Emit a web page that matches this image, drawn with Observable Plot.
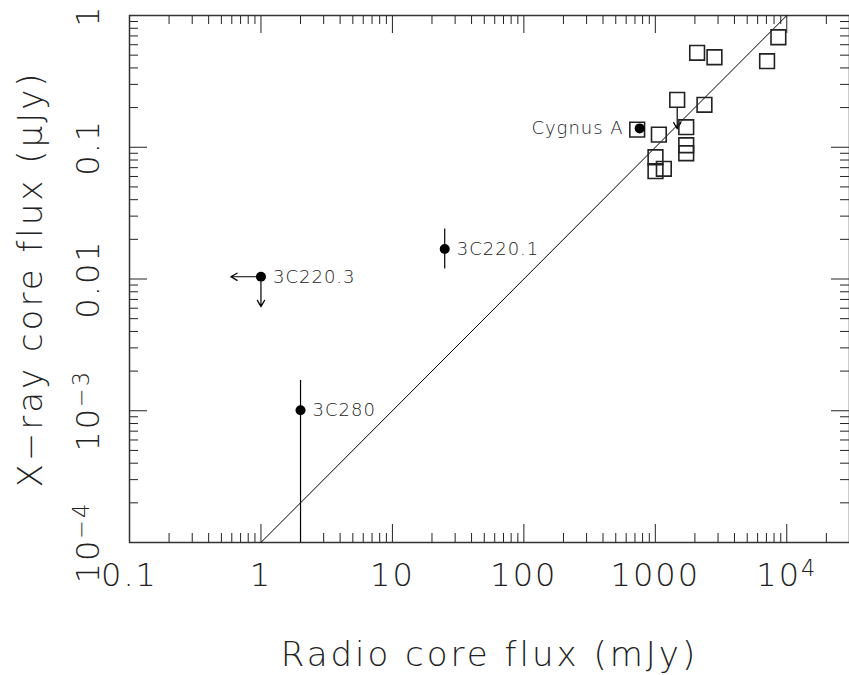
<!DOCTYPE html>
<html><head><meta charset="utf-8">
<script src="https://cdn.jsdelivr.net/npm/d3@7"></script>
<script src="https://cdn.jsdelivr.net/npm/@observablehq/plot@0.6"></script>
<style>body{margin:0;background:#fff}</style>
</head><body><div id="chart"></div>
<script>
// Axis ticks
const xTicks = [0.1, 1, 10, 100, 1000, 1e4];
const xTickLabels = ["0.1", "1", "10", "100", "1000", "10^4"];
const yTicks = [1e-4, 1e-3, 0.01, 0.1, 1];
const yTickLabels = ["10^\u22124", "10^\u22123", "0.01", "0.1", "1"];

// Open squares (radio core flux mJy, X-ray core flux μJy)
const sqRadio = [8630, 7080, 2080, 2818, 1467, 2365, 1718, 1064, 1718, 1718, 1003, 1003, 1161, 728];
const sqXray  = [0.684, 0.450, 0.521, 0.482, 0.229, 0.210, 0.142, 0.1248, 0.1036, 0.090, 0.084, 0.0658, 0.0686, 0.136];

// Labelled sources (filled circles)
const srcNames = ["3C220.3", "3C220.1", "3C280", "Cygnus A"];
const srcRadio = [1, 25, 2, 760];
const srcXray  = [0.0104, 0.0169, 0.00101, 0.139];
const srcLabelSide = ["right", "right", "right", "left"];

// Error bars
const errRadio = [25, 2];
const errLow   = [0.0119, 1e-4];
const errHigh  = [0.024, 0.0017];

// Upper limits of 3C220.3 (arrows)
const limX1 = [1, 1];
const limY1 = [0.0104, 0.0104];
const limX2 = [0.59, 1];
const limY2 = [0.0104, 0.00617];
// Upper limit on one square
const sqLimX1 = [1467], sqLimY1 = [0.229], sqLimY2 = [0.138];

// Relation line Sx = 1e-4 * Sr
const relX = [1, 1e4];
const relY = [1e-4, 1];

const xDomain = [0.1, 3e4];
const yDomain = [1e-4, 1];

const W = 849, H = 675, mL = 129, mR = 0, mT = 15, mB = 133;
const plotW = W - mL - mR, plotH = H - mT - mB;

function minors(lo, hi, maxV) {
  const out = [];
  for (let d = lo; d < hi * 1.0001; d *= 10)
    for (let k = 2; k <= 9; k++) if (d * k <= maxV * 1.0001) out.push(d * k);
  return out;
}
const xMinor = minors(0.1, 1e4, xDomain[1]);
const yMinor = minors(1e-4, 0.1, yDomain[1]);

const font = "DejaVu Sans";
const txt = "#222";

const squares = sqRadio.map((x, i) => ({x, y: sqXray[i]}));
const sources = srcNames.map((n, i) => ({n, x: srcRadio[i], y: srcXray[i], side: srcLabelSide[i]}));
const errs = errRadio.map((x, i) => ({x, lo: errLow[i], hi: errHigh[i]}));
const lims = limX1.map((x, i) => ({x1: x, y1: limY1[i], x2: limX2[i], y2: limY2[i]}));
const sqLims = sqLimX1.map((x, i) => ({x, y1: sqLimY1[i], y2: sqLimY2[i]}));
const rel = relX.map((x, i) => ({x, y: relY[i]}));

const tickStroke = "#222";
const chart = Plot.plot({
  width: W, height: H,
  marginLeft: mL, marginRight: mR, marginTop: mT, marginBottom: mB,
  x: {type: "log", domain: xDomain, axis: null},
  y: {type: "log", domain: yDomain, axis: null},
  style: {fontFamily: font, background: "#fff"},
  marks: [
    // ticks, all four sides, inward
    Plot.ruleX(xTicks, {x: d => d, insetTop: plotH - 18, stroke: tickStroke}),
    Plot.ruleX(xTicks, {x: d => d, insetBottom: plotH - 18, stroke: tickStroke}),
    Plot.ruleX(xMinor, {x: d => d, insetTop: plotH - 9, stroke: tickStroke}),
    Plot.ruleX(xMinor, {x: d => d, insetBottom: plotH - 9, stroke: tickStroke}),
    Plot.ruleY(yTicks, {y: d => d, insetRight: plotW - 18, stroke: tickStroke}),
    Plot.ruleY(yTicks, {y: d => d, insetLeft: plotW - 18, stroke: tickStroke}),
    Plot.ruleY(yMinor, {y: d => d, insetRight: plotW - 9, stroke: tickStroke}),
    Plot.ruleY(yMinor, {y: d => d, insetLeft: plotW - 9, stroke: tickStroke}),
    Plot.frame({stroke: "#333", strokeWidth: 1.5}),
    // tick labels
    Plot.text(xTicks, {x: d => d, text: (d, i) => xTickLabels[i], frameAnchor: "bottom", dy: 33,
      fontSize: 32, fontWeight: 200, fill: txt, lineAnchor: "middle", textAnchor: "middle"}),
    Plot.text(yTicks, {y: d => d, text: (d, i) => yTickLabels[i], frameAnchor: "left", dx: -41, rotate: -90,
      fontSize: 32, fontWeight: 200, fill: txt, lineAnchor: "middle", textAnchor: "middle"}),
    // axis titles
    Plot.text(["Radio core flux (mJy)"], {frameAnchor: "bottom", dy: 113, fontSize: 34, fontWeight: 200,
      fill: txt, lineAnchor: "middle", textAnchor: "middle"}),
    Plot.text(["X\u2212ray core flux (\u03BCJy)"], {frameAnchor: "left", dx: -98, rotate: -90, fontSize: 34,
      fontWeight: 200, fill: txt, lineAnchor: "middle", textAnchor: "middle"}),
    // relation line
    Plot.line(rel, {x: "x", y: "y", stroke: "#000", strokeWidth: 1}),
    // error bars
    Plot.ruleX(errs, {x: "x", y1: "lo", y2: "hi", stroke: "#000", strokeWidth: 1.2}),
    // limits
    Plot.arrow(lims, {x1: "x1", y1: "y1", x2: "x2", y2: "y2", insetStart: 5, stroke: "#000", strokeWidth: 1.2, headLength: 9}),
    Plot.arrow(sqLims, {x1: "x", y1: "y1", x2: "x", y2: "y2", insetStart: 7.5, stroke: "#000", strokeWidth: 1.2, headLength: 9}),
    // squares
    Plot.dot(squares, {x: "x", y: "y", symbol: "square", r: 8.3, stroke: "#222", strokeWidth: 1.6, fill: "none"}),
    // filled circles
    Plot.dot(sources, {x: "x", y: "y", r: 5, fill: "#000", stroke: "none"}),
    Plot.text(sources.filter(d => d.side === "right"), {x: "x", y: "y", text: "n", dx: 12, textAnchor: "start",
      lineAnchor: "middle", fontSize: 18, fontWeight: 200, fill: txt}),
    Plot.text(sources.filter(d => d.side === "left"), {x: "x", y: "y", text: "n", dx: -16, textAnchor: "end",
      lineAnchor: "middle", fontSize: 18, fontWeight: 200, fill: txt})
  ]
});

// superscripts: "a^b" -> a<tspan sup>b</tspan>
chart.querySelectorAll("text").forEach(t => {
  const s = t.textContent;
  if (s.includes("^")) {
    const [base, sup] = s.split("^");
    t.textContent = "";
    const ns = "http://www.w3.org/2000/svg";
    const a = document.createElementNS(ns, "tspan"); a.textContent = base;
    const b = document.createElementNS(ns, "tspan"); b.textContent = sup;
    b.setAttribute("dy", "-0.45em"); b.setAttribute("font-size", "0.7em");
    t.append(a, b);
  }
});
// wider letter spacing, like the original plotting font
const spacing = {"34": "3px", "32": "2px", "18": "1px"};
chart.querySelectorAll("g[font-size]").forEach(g => {
  const ls = spacing[g.getAttribute("font-size")];
  if (ls) g.setAttribute("letter-spacing", ls);
});
document.getElementById("chart").append(chart);
</script>
</body></html>
